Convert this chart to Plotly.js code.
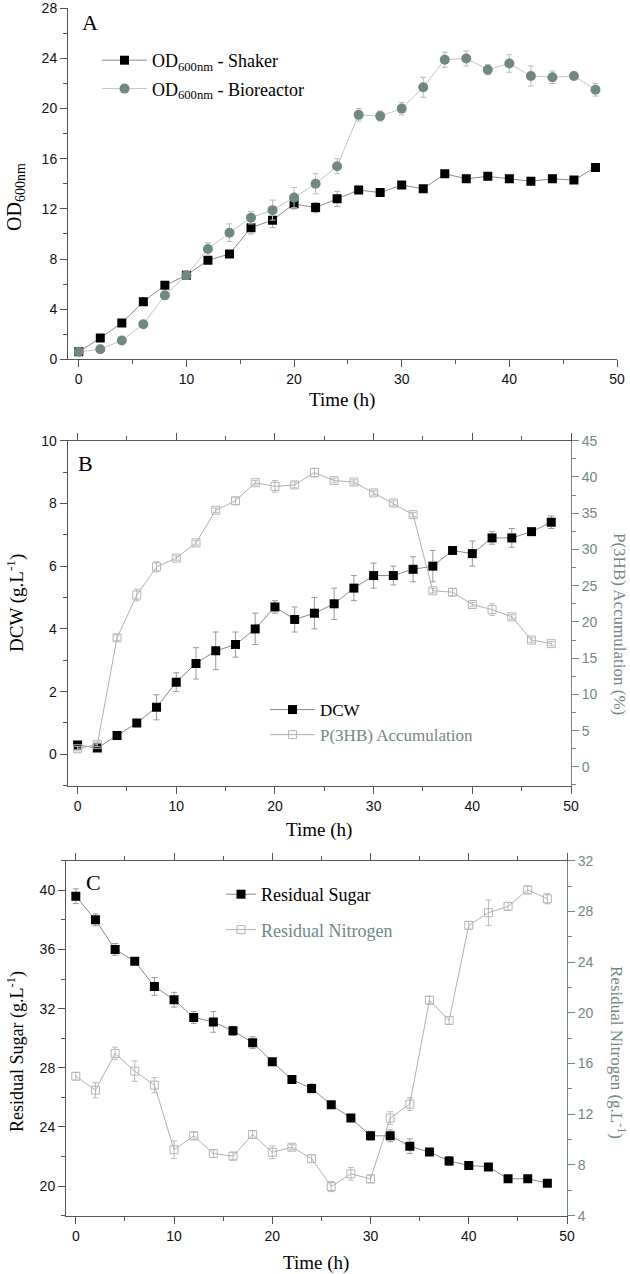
<!DOCTYPE html>
<html>
<head>
<meta charset="utf-8">
<script src="https://cdn.plot.ly/plotly-3.0.1.min.js"></script>
<style>html,body{margin:0;padding:0;background:#fff}#chart{width:630px;height:1274px}</style>
</head>
<body>
<div id="chart"></div>
<script>
// ---- data ----
const time = [0,2,4,6,8,10,12,14,16,18,20,22,24,26,28,30,32,34,36,38,40,42,44,46,48];

const odShaker    = [0.6,1.7,2.9,4.6,5.9,6.7,7.9,8.4,10.5,11.1,12.4,12.1,12.8,13.5,13.3,13.9,13.6,14.8,14.4,14.6,14.4,14.2,14.4,14.3,15.3];
const odShakerErr = [0.2,0.2,0.2,0.3,0.2,0.3,0.2,0.2,0.5,0.6,0.4,0.4,0.6,0.2,0.2,0.2,0.2,0.2,0.3,0.2,0.3,0.3,0.3,0.2,0.2];
const odBio       = [0.6,0.8,1.5,2.8,5.1,6.7,8.8,10.1,11.3,11.9,12.9,14.0,15.4,19.5,19.4,20.0,21.7,23.9,24.0,23.1,23.6,22.6,22.5,22.6,21.5];
const odBioErr    = [0.2,0.2,0.2,0.2,0.2,0.3,0.5,0.7,0.5,0.8,0.8,0.8,0.6,0.5,0.4,0.5,0.8,0.6,0.6,0.4,0.7,0.8,0.5,0.3,0.5];

const dcw     = [0.3,0.2,0.6,1.0,1.5,2.3,2.9,3.3,3.5,4.0,4.7,4.3,4.5,4.8,5.3,5.7,5.7,5.9,6.0,6.5,6.4,6.9,6.9,7.1,7.4];
const dcwErr  = [0.1,0.1,0.05,0.05,0.4,0.3,0.5,0.6,0.4,0.5,0.2,0.4,0.5,0.5,0.4,0.4,0.3,0.4,0.5,0.1,0.4,0.2,0.3,0.1,0.2];
const phb     = [2.5,3.1,17.8,23.7,27.6,28.8,30.9,35.4,36.7,39.2,38.7,38.9,40.6,39.5,39.3,37.8,36.4,34.8,24.3,24.1,22.4,21.7,20.7,17.5,17.0];
const phbErr  = [0.3,0.3,0.4,0.8,0.7,0.3,0.3,0.3,0.5,0.3,0.8,0.4,0.6,0.3,0.3,0.3,0.3,0.3,0.3,0.5,0.3,0.8,0.3,0.3,0.3];

const sugar     = [39.6,38.0,36.0,35.2,33.5,32.6,31.4,31.1,30.5,29.7,28.4,27.2,26.6,25.5,24.6,23.4,23.4,22.7,22.3,21.7,21.4,21.3,20.5,20.5,20.2];
const sugarErr  = [0.5,0.4,0.4,0.2,0.6,0.5,0.4,0.7,0.3,0.4,0.2,0.2,0.3,0.2,0.2,0.3,0.4,0.5,0.2,0.3,0.2,0.2,0.2,0.2,0.2];
const nitrogen  = [15.0,13.9,16.8,15.4,14.3,9.2,10.3,8.9,8.7,10.4,9.0,9.4,8.5,6.3,7.3,6.9,11.7,12.8,21.0,19.4,26.9,27.9,28.4,29.7,29.0];
const nitroErr  = [0.3,0.6,0.5,0.8,0.6,0.7,0.3,0.3,0.3,0.3,0.5,0.2,0.3,0.4,0.5,0.3,0.5,0.5,0.3,0.3,0.3,1.0,0.3,0.3,0.4];

const xTickVals = [0,10,20,30,40,50];

// ---- styles ----
const TEAL = '#6f8886';
const AXC = '#555555';
const SERIF = "'Liberation Serif', 'Times New Roman', serif";
const SANS = "'Liberation Sans', Arial, sans-serif";
const W = 630, H = 1274;
const px = v => v / W;
const py = v => 1 - v / H;

function err(arr, color) {
  return {type: 'data', array: arr, visible: true, color: color || '#aaaaaa', thickness: 1, width: 3};
}

const traces = [
  {x: time, y: odShaker, xaxis: 'x', yaxis: 'y', mode: 'lines+markers', name: 'OD<sub>600nm</sub> - Shaker',
   line: {color: '#8a8a8a', width: 1}, marker: {symbol: 'square', size: 9, color: '#000000'},
   error_y: err(odShakerErr), legend: 'legend', legendgroup: 'a1'},
  {x: time, y: odBio, xaxis: 'x', yaxis: 'y', mode: 'lines+markers', name: 'OD<sub>600nm</sub> - Bioreactor',
   line: {color: '#c4c4c4', width: 1}, marker: {symbol: 'circle', size: 10, color: TEAL},
   error_y: err(odBioErr, '#bbbbbb'), legend: 'legend', legendgroup: 'a2'},

  {x: time, y: dcw, xaxis: 'x2', yaxis: 'y2', mode: 'lines+markers', name: 'DCW',
   line: {color: '#8a8a8a', width: 1}, marker: {symbol: 'square', size: 9, color: '#000000'},
   error_y: err(dcwErr, '#999999'), legend: 'legend2', legendgroup: 'b1'},
  {x: time, y: phb, xaxis: 'x2', yaxis: 'y3', mode: 'lines+markers', name: '<span style="color:' + TEAL + '">P(3HB) Accumulation</span>',
   line: {color: '#b0b0b0', width: 1}, marker: {symbol: 'square-open', size: 8, color: '#b5b5b5', line: {width: 1}},
   error_y: err(phbErr, '#bbbbbb'), legend: 'legend2', legendgroup: 'b2'},

  {x: time, y: sugar, xaxis: 'x3', yaxis: 'y4', mode: 'lines+markers', name: 'Residual Sugar',
   line: {color: '#8a8a8a', width: 1}, marker: {symbol: 'square', size: 9, color: '#000000'},
   error_y: err(sugarErr, '#999999'), legend: 'legend3', legendgroup: 'c1'},
  {x: time, y: nitrogen, xaxis: 'x3', yaxis: 'y5', mode: 'lines+markers', name: '<span style="color:' + TEAL + '">Residual Nitrogen</span>',
   line: {color: '#b0b0b0', width: 1}, marker: {symbol: 'square-open', size: 8, color: '#b5b5b5', line: {width: 1}},
   error_y: err(nitroErr, '#bbbbbb'), legend: 'legend3', legendgroup: 'c2'}
];

function xax(domain, anchor, mirror) {
  return {domain: domain, anchor: anchor, range: [-1, 50], tickvals: xTickVals, ticks: 'outside', ticklen: 7,
    tickcolor: AXC, showline: true, linecolor: AXC, linewidth: 1, mirror: mirror, showgrid: false, zeroline: false,
    tickfont: {family: SANS, size: 14, color: '#111'},
    minor: {dtick: 5, tick0: 0, ticks: 'outside', ticklen: 4, tickcolor: AXC, showgrid: false}};
}
function yax(domain, anchor, range, dtick, minor, color, side, overlaying) {
  const a = {domain: domain, anchor: anchor, range: range, dtick: dtick, tick0: 0, ticks: 'outside', ticklen: 7,
    tickcolor: color, showline: true, linecolor: color, linewidth: 1, showgrid: false, zeroline: false,
    tickfont: {family: SANS, size: 14, color: color === AXC ? '#111' : color},
    minor: {dtick: minor, ticks: 'outside', ticklen: 4, tickcolor: color, showgrid: false}};
  if (side) a.side = side;
  if (overlaying) a.overlaying = overlaying;
  return a;
}

const legendBase = {bgcolor: 'rgba(0,0,0,0)', borderwidth: 0, font: {family: SERIF, size: 18, color: '#000'},
  itemwidth: 45, xanchor: 'left', yanchor: 'top', tracegroupgap: 0, itemclick: false, itemdoubleclick: false};

function ann(text, x, y, size, color, angle) {
  return {text: text, x: px(x), y: py(y), xref: 'paper', yref: 'paper', xanchor: 'center', yanchor: 'middle',
    showarrow: false, textangle: angle || 0, font: {family: SERIF, size: size, color: color || '#000'}};
}

const layout = {
  width: W, height: H,
  margin: {l: 0, r: 0, t: 0, b: 0},
  paper_bgcolor: '#fff', plot_bgcolor: 'rgba(0,0,0,0)',
  showlegend: true,
  xaxis:  xax([px(68), px(617)], 'y', false),
  yaxis:  yax([py(359.3), py(8.3)], 'x', [0, 28], 4, 2, AXC),
  xaxis2: xax([px(67.7), px(571)], 'y2', 'ticks'),
  yaxis2: yax([py(785.7), py(440.7)], 'x2', [-1, 10], 2, 1, AXC),
  yaxis3: yax([py(785.7), py(440.7)], 'x2', [-2.6, 45], 5, 2.5, TEAL, 'right', 'y2'),
  xaxis3: xax([px(66), px(567)], 'y4', 'ticks'),
  yaxis4: yax([py(1215.7), py(860.7)], 'x3', [18, 42], 4, 2, AXC),
  yaxis5: yax([py(1215.7), py(860.7)], 'x3', [4, 32], 4, 2, TEAL, 'right', 'y4'),
  legend:  Object.assign({}, legendBase, {x: px(97), y: py(42), tracegroupgap: 2}),
  legend2: Object.assign({}, legendBase, {x: px(265), y: py(692), font: {family: SERIF, size: 17, color: '#000'}}),
  legend3: Object.assign({}, legendBase, {x: px(221), y: py(876), itemwidth: 30, tracegroupgap: 9}),
  annotations: [
    ann('A', 90, 23, 22),
    ann('B', 85, 463, 22),
    ann('C', 93, 882, 22),

    ann('Time (h)', 342, 400, 19),
    ann('Time (h)', 319, 830, 19),
    ann('Time (h)', 316, 1263, 19),

    ann('OD<sub>600nm</sub>', 16, 197, 20, '#000', -90),
    ann('DCW (g.L<sup>-1</sup>)', 16, 603, 19, '#000', -90),
    ann('P(3HB) Accumulation (%)', 620, 624, 17, TEAL, 90),
    ann('Residual Sugar (g.L<sup>-1</sup>)', 16, 1052, 18, '#000', -90),
    ann('Residual Nitrogen (g.L<sup>-1</sup>)', 618, 1052, 17, TEAL, 90)
  ]
};

Plotly.newPlot('chart', traces, layout, {displayModeBar: false, staticPlot: true});
</script>
</body>
</html>
